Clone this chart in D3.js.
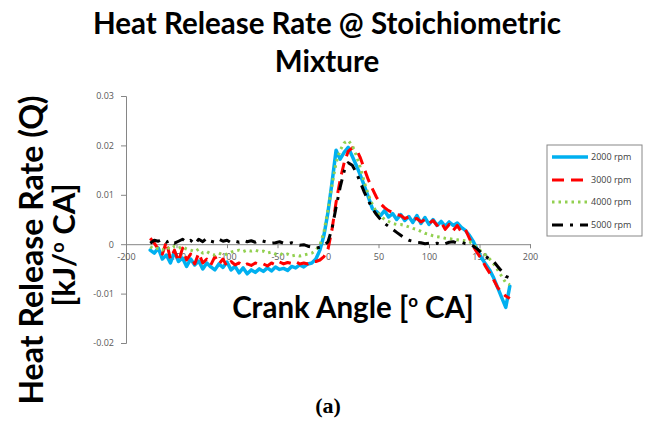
<!DOCTYPE html>
<html><head><meta charset="utf-8">
<script src="https://cdn.jsdelivr.net/npm/d3@7"></script>
<style>body{margin:0;background:#fff}svg{display:block}</style>
</head><body><div id="chart"></div>
<script>
const angles = [-176,-172,-168,-164,-160,-156,-152,-148,-144,-140,-136,-132,-128,-124,-120,-116,-112,-108,-104,-100,-96,-92,-88,-84,-80,-76,-72,-68,-64,-60,-56,-52,-48,-44,-40,-36,-32,-28,-24,-20,-16,-12,-8,-4,0,4,8,12,16,20,24,28,32,36,40,44,48,52,56,60,64,68,72,76,80,84,88,92,96,100,104,108,112,116,120,124,128,132,136,140,144,148,152,156,160,164,168,172,176,180];
const rpm2000 = [-0.0012,-0.0018,-0.0008,-0.0030,-0.0022,-0.0038,-0.0015,-0.0035,-0.0028,-0.0045,-0.0030,-0.0042,-0.0034,-0.0050,-0.0038,-0.0046,-0.0052,-0.0040,-0.0047,-0.0036,-0.0052,-0.0045,-0.0058,-0.0048,-0.0060,-0.0052,-0.0057,-0.0050,-0.0055,-0.0048,-0.0054,-0.0046,-0.0051,-0.0049,-0.0053,-0.0045,-0.0048,-0.0042,-0.0046,-0.0040,-0.0038,-0.0030,-0.0012,0.0018,0.0065,0.0125,0.0190,0.0172,0.0186,0.0196,0.0178,0.0160,0.0140,0.0118,0.0095,0.0072,0.0066,0.0058,0.0068,0.0055,0.0062,0.0050,0.0060,0.0048,0.0056,0.0044,0.0058,0.0042,0.0054,0.0040,0.0050,0.0038,0.0046,0.0036,0.0045,0.0038,0.0043,0.0034,0.0028,0.0018,0.0005,-0.0012,-0.0028,-0.0040,-0.0052,-0.0068,-0.0088,-0.0108,-0.0128,-0.0085];
const rpm3000 = [0.0012,0.0002,-0.0010,-0.0020,0.0005,-0.0030,-0.0012,-0.0035,-0.0008,-0.0032,-0.0020,-0.0040,-0.0018,-0.0038,-0.0030,-0.0042,-0.0025,-0.0040,-0.0030,-0.0045,-0.0035,-0.0042,-0.0038,-0.0044,-0.0040,-0.0043,-0.0038,-0.0042,-0.0040,-0.0044,-0.0038,-0.0042,-0.0036,-0.0040,-0.0037,-0.0039,-0.0035,-0.0040,-0.0038,-0.0040,-0.0036,-0.0035,-0.0032,-0.0025,-0.0010,0.0030,0.0085,0.0130,0.0165,0.0188,0.0195,0.0192,0.0175,0.0152,0.0130,0.0112,0.0095,0.0082,0.0074,0.0068,0.0064,0.0060,0.0058,0.0052,0.0055,0.0050,0.0052,0.0045,0.0050,0.0042,0.0048,0.0038,0.0045,0.0030,0.0040,0.0028,0.0038,0.0025,0.0030,0.0012,-0.0005,-0.0018,-0.0030,-0.0045,-0.0058,-0.0072,-0.0088,-0.0098,-0.0105,-0.0110];
const rpm4000 = [-0.0005,-0.0010,-0.0008,-0.0012,-0.0006,-0.0010,-0.0004,-0.0008,-0.0005,-0.0010,-0.0012,-0.0015,-0.0010,-0.0018,-0.0015,-0.0020,-0.0022,-0.0018,-0.0022,-0.0020,-0.0016,-0.0014,-0.0012,-0.0015,-0.0012,-0.0014,-0.0012,-0.0015,-0.0014,-0.0018,-0.0016,-0.0020,-0.0018,-0.0022,-0.0020,-0.0024,-0.0022,-0.0024,-0.0022,-0.0020,-0.0018,-0.0012,-0.0002,0.0025,0.0070,0.0120,0.0165,0.0190,0.0205,0.0210,0.0200,0.0180,0.0155,0.0125,0.0100,0.0080,0.0065,0.0058,0.0050,0.0046,0.0042,0.0040,0.0040,0.0038,0.0035,0.0032,0.0030,0.0026,0.0022,0.0020,0.0017,0.0015,0.0014,0.0012,0.0011,0.0010,0.0009,0.0008,0.0007,0.0005,0.0000,-0.0008,-0.0015,-0.0022,-0.0030,-0.0040,-0.0052,-0.0065,-0.0078,-0.0082];
const rpm5000 = [0.0002,0.0008,0.0006,0.0010,0.0004,0.0008,0.0002,0.0006,0.0010,0.0004,0.0008,0.0000,0.0010,0.0005,0.0012,0.0006,0.0004,0.0010,0.0006,0.0008,0.0003,0.0006,0.0004,0.0008,0.0005,0.0007,0.0004,0.0008,0.0006,0.0004,0.0002,0.0003,0.0005,0.0002,0.0001,0.0003,0.0000,-0.0002,-0.0001,-0.0004,-0.0006,-0.0008,-0.0006,-0.0003,0.0005,0.0032,0.0075,0.0115,0.0148,0.0165,0.0160,0.0145,0.0125,0.0105,0.0088,0.0072,0.0060,0.0050,0.0042,0.0036,0.0030,0.0024,0.0018,0.0012,0.0008,0.0006,0.0004,0.0003,0.0001,0.0002,0.0000,0.0002,-0.0001,0.0001,0.0004,0.0005,0.0002,0.0004,0.0001,0.0000,-0.0004,-0.0010,-0.0018,-0.0025,-0.0030,-0.0035,-0.0045,-0.0055,-0.0065,-0.0068];
const seriesNames = ["2000 rpm","3000 rpm","4000 rpm","5000 rpm"];
const xTicks = [-200,-150,-100,-50,0,50,100,150,200];
const yTicks = [-0.02,-0.01,0,0.01,0.02,0.03];
const yTickLabels = ["-0.02","-0.01","0","0.01","0.02","0.03"];

const W = 656, H = 445;
const svg = d3.select("#chart").append("svg").attr("width", W).attr("height", H);
const x = d3.scaleLinear().domain([-200, 200]).range([126, 530]);
const y = d3.scaleLinear().domain([-0.02, 0.03]).range([343, 96]);

const styles = [
  {color:"#00b0f0", width:3.5, dash:null, cap:"round"},
  {color:"#ff0000", width:3, dash:"12,7", cap:"butt"},
  {color:"#92d050", width:3, dash:"2.5,4", cap:"butt"},
  {color:"#000000", width:3, dash:"11,7,3,7", cap:"butt"}
];
const data = [rpm2000, rpm3000, rpm4000, rpm5000];

// Titles
const tf = "Lato, 'Open Sans', sans-serif";
svg.append("text").attr("x", 327).attr("y", 34).attr("text-anchor","middle")
  .attr("font-family", tf).attr("font-weight", 700).attr("font-size", 29.5).attr("fill","#000")
  .text("Heat Release Rate @ Stoichiometric");
svg.append("text").attr("x", 327).attr("y", 72).attr("text-anchor","middle")
  .attr("font-family", tf).attr("font-weight", 700).attr("font-size", 29.5).attr("fill","#000")
  .text("Mixture");

// Y axis
const yAxis = d3.axisLeft(y).tickValues(yTicks).tickSize(5).tickPadding(7)
  .tickFormat((d,i) => yTickLabels[i]);
const gy = svg.append("g").attr("transform", `translate(${x(-200)},0)`).call(yAxis);
gy.select(".domain").attr("stroke", "#868686");
gy.selectAll(".tick line").attr("stroke", "#868686");
gy.selectAll(".tick text").attr("fill", "#595959").attr("font-family","'Open Sans', sans-serif").attr("font-size", 9);

// X axis at y=0
const xAxis = d3.axisBottom(x).tickValues(xTicks).tickSize(4).tickPadding(5).tickFormat(d3.format("d"));
const gx = svg.append("g").attr("transform", `translate(0,${y(0)})`).call(xAxis);
gx.select(".domain").attr("stroke", "#868686");
gx.selectAll(".tick line").attr("stroke", "#868686");
gx.selectAll(".tick text").attr("fill", "#595959").attr("font-family","'Open Sans', sans-serif").attr("font-size", 9)
  .text(d => d < 0 ? "-" + Math.abs(d) : d);

// Series
const line = d3.line().x((d,i) => x(angles[i])).y(d => y(d));
data.forEach((s, k) => {
  svg.append("path").datum(s).attr("d", line).attr("fill","none")
    .attr("stroke", styles[k].color).attr("stroke-width", styles[k].width)
    .attr("stroke-linejoin","round").attr("stroke-linecap", styles[k].cap)
    .attr("stroke-dasharray", styles[k].dash);
});

// Axis titles
const yt = svg.append("text").attr("transform", "translate(43,250) rotate(-90)")
  .attr("text-anchor","middle").attr("font-family", tf).attr("font-weight",700).attr("font-size",32);
yt.text("Heat Release Rate (Q)");
const yt2 = svg.append("text").attr("transform", "translate(75,245) rotate(-90)")
  .attr("text-anchor","middle").attr("font-family", tf).attr("font-weight",700).attr("font-size",31);
yt2.append("tspan").text("[kJ/");
yt2.append("tspan").attr("font-size",18).attr("dy",-11).text("o");
yt2.append("tspan").attr("dy",11).text(" CA]");

const xt = svg.append("text").attr("x", 353).attr("y", 318).attr("text-anchor","middle")
  .attr("font-family", tf).attr("font-weight",700).attr("font-size",29.5);
xt.append("tspan").text("Crank Angle [");
xt.append("tspan").attr("font-size",17).attr("dy",-11).text("o");
xt.append("tspan").attr("dy",11).text(" CA]");

// Legend
const lg = svg.append("g");
lg.append("rect").attr("x",547).attr("y",145).attr("width",95).attr("height",91)
  .attr("fill","#fff").attr("stroke","#888").attr("stroke-width",1);
const ly = [157, 180, 202, 225];
seriesNames.forEach((n,k) => {
  lg.append("line").attr("x1",552).attr("x2",588).attr("y1",ly[k]).attr("y2",ly[k])
    .attr("stroke", styles[k].color).attr("stroke-width", styles[k].width)
    .attr("stroke-dasharray", styles[k].dash).attr("stroke-linecap","butt");
  lg.append("text").attr("x",591).attr("y",ly[k]+3).attr("font-family","'Open Sans', sans-serif")
    .attr("font-size",9).attr("fill","#404040").text(n);
});

// caption
svg.append("text").attr("x",328).attr("y",413).attr("text-anchor","middle")
  .attr("font-family","'Liberation Serif', serif").attr("font-weight",700).attr("font-size",22).text("(a)");
</script></body></html>
